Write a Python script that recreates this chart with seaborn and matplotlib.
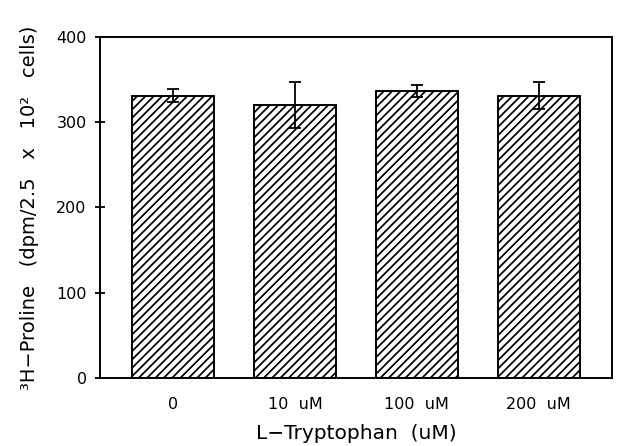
import matplotlib
matplotlib.use("Agg")
import matplotlib.pyplot as plt
import seaborn as sns
import pandas as pd

categories = ["0", "10  uM", "100  uM", "200  uM"]
values = [331, 320, 336, 331]
errors = [8, 27, 7, 16]

sns.set_style("ticks")
plt.rcParams['font.family'] = ['DejaVu Sans']
plt.rcParams['hatch.linewidth'] = 1.25
plt.rcParams['text.color'] = 'black'
plt.rcParams['axes.labelcolor'] = 'black'
plt.rcParams['xtick.color'] = 'black'
plt.rcParams['ytick.color'] = 'black'
plt.rcParams['axes.edgecolor'] = 'black'

df = pd.DataFrame({"cat": categories, "val": values})

fig = plt.figure(figsize=(6.4, 4.46), dpi=100)
ax = fig.add_axes([0.156, 0.1525, 0.80, 0.765])
sns.barplot(data=df, x="cat", y="val", ax=ax, color="white", edgecolor="black",
            linewidth=1.4, width=0.67, errorbar=None)
for p in ax.patches:
    p.set_hatch("////")
    p.set_facecolor("white")
ax.errorbar(range(len(categories)), values, yerr=errors, fmt="none",
            ecolor="black", elinewidth=1.3, capsize=4, capthick=1.3)

ax.set_xlim(-0.6, 3.6)
ax.set_ylim(0, 400)
ax.set_yticks([0, 100, 200, 300, 400])
ax.tick_params(axis="y", direction="inout", length=7, width=1.3, labelsize=11.5, pad=6,
               colors="black")
ax.tick_params(axis="x", length=0, labelsize=11.5, pad=14, colors="black")
for s in ax.spines.values():
    s.set_linewidth(1.4)
    s.set_color("black")
    s.set_visible(True)
ax.set_xlabel("L\u2212Tryptophan  (uM)", fontsize=14.5, labelpad=8, color="black")
ax.set_ylabel("\u00b3H\u2212Proline   (dpm/2.5   x   10\u00b2   cells)", fontsize=14,
              labelpad=12, color="black")

fig.savefig("out.png", dpi=100)
